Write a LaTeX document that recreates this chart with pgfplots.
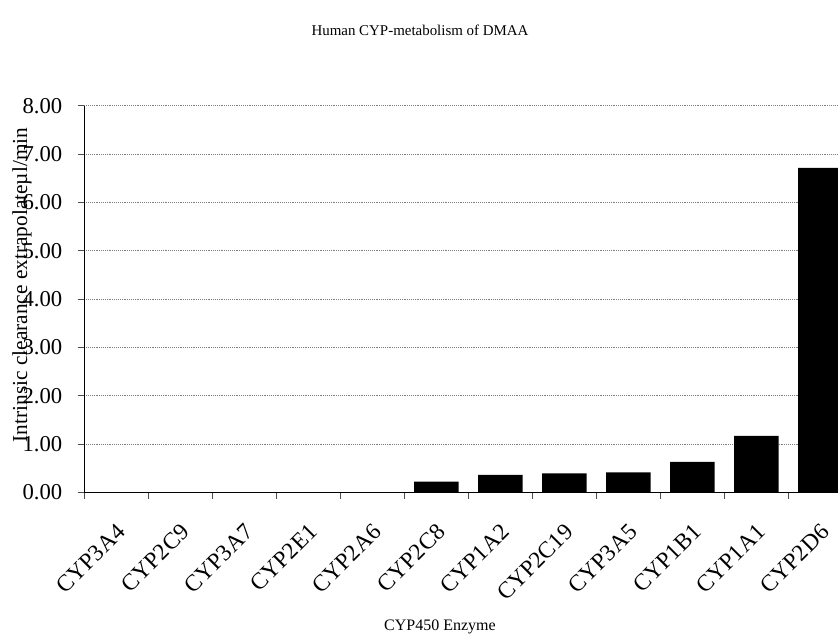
\documentclass[border=0pt]{standalone}
\usepackage{fontspec}
\setmainfont{Liberation Serif}
\usepackage{pgfplots}
\pgfplotsset{compat=1.18}
\begin{document}
\begin{tikzpicture}
\begin{axis}[
  at={({84.3*0.75pt},{-492.3*0.75pt})}, anchor=south west,
  scale only axis,
  width=576pt, height=290pt,
  xmin=-0.5, xmax=11.5, ymin=0, ymax=8,
  axis x line*=bottom, axis y line*=left,
  axis line style={line width=0.8pt},
  ytick={0,1,...,8},
  yticklabel style={/pgf/number format/fixed,/pgf/number format/zerofill,/pgf/number format/precision=2,font=\fontsize{17}{19}\selectfont, xshift=-8pt},
  /pgf/number format/assume math mode=true,
  ymajorgrids,
  major grid style={densely dotted, gray, line width=0.5pt},
  tick align=outside,
  major tick length=5pt,
  minor tick length=5pt,
  tick style={black!70, line width=0.5pt},
  xtick={0,...,11},
  xticklabels={CYP3A4,CYP2C9,CYP3A7,CYP2E1,CYP2A6,CYP2C8,CYP1A2,CYP2C19,CYP3A5,CYP1B1,CYP1A1,CYP2D6},
  major x tick style={draw=none},
  minor xtick={-0.5,0.5,...,11.5},
  xticklabel style={rotate=45, anchor=east, font=\fontsize{17.5}{19}\selectfont, xshift=-9.5pt, yshift=-18pt},
  ybar, bar width=33.4pt, bar shift=0pt,
]
\addplot[fill=black, draw=none] coordinates {
 (0,0) (1,0) (2,0) (3,0) (4,0) (5,0.22) (6,0.36) (7,0.39) (8,0.41) (9,0.63) (10,1.17) (11,6.71)
};
\end{axis}
\node[font=\fontsize{11.2}{13}\selectfont] at ({420*0.75pt},{-30*0.75pt}) {Human CYP-metabolism of DMAA};
\node[font=\fontsize{12}{14}\selectfont] at ({440*0.75pt},{-627*0.75pt}) {CYP450 Enzyme};
\node[rotate=90, font=\fontsize{16}{18}\selectfont] at ({22*0.75pt},{-285*0.75pt}) {Intrinsic clearance extrapolateµl/min};
\pgfresetboundingbox
\path[use as bounding box] (0,0) rectangle ({838*0.75pt},{-638*0.75pt});
\end{tikzpicture}
\end{document}
